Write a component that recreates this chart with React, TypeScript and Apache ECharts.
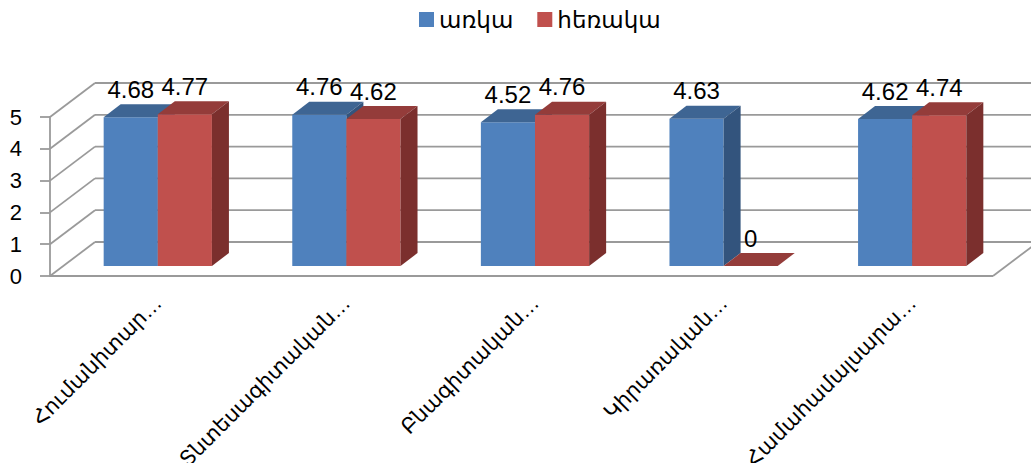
import React, { useEffect, useRef } from "react";
import * as echarts from "echarts";

const categories = ["Հումանիտար…", "Տնտեսագիտական…", "Բնագիտական…", "Կիրառական…", "Համահամալսարա…"];
const seriesNames = ["առկա", "հեռակա"];
const inPerson = [4.68, 4.76, 4.52, 4.63, 4.62];
const distance = [4.77, 4.62, 4.76, 0, 4.74];
const yTicks = [0, 1, 2, 3, 4, 5];

const FRONT = ["#4F81BD", "#C0504D"];
const TOP = ["#3E6593", "#943C3A"];
const SIDE = ["#33547D", "#7B2F2D"];
const LINE = "#9A9A9A";
const DX = 45;
const DY = -34;
const BDX = 17;
const BDY = -13;
const FONT = "'Liberation Sans', 'DejaVu Sans', sans-serif";

export default function App() {
  const ref = useRef<HTMLDivElement>(null);
  useEffect(() => {
    document.body.style.margin = "0";
    const chart = echarts.init(ref.current!, null, { renderer: "svg" });
    const n = categories.length;

    const frameRender = (params: any, api: any) => {
      const v = api.value(1);
      const bw = api.size([1, 0])[0];
      const pL = api.coord([0, v]);
      const pR = api.coord([n - 1, v]);
      const left = pL[0] - bw / 2;
      const right = pR[0] + bw / 2;
      const y = pL[1];
      const st = { stroke: LINE, lineWidth: 1.8 };
      const children: any[] = [
        { type: "line", shape: { x1: left, y1: y, x2: left + DX, y2: y + DY }, style: st },
        { type: "line", shape: { x1: left + DX, y1: y + DY, x2: right + DX, y2: y + DY }, style: st },
      ];
      if (v === 0) {
        children.push({ type: "line", shape: { x1: left, y1: y, x2: right, y2: y }, style: st });
        children.push({ type: "line", shape: { x1: right, y1: y, x2: right + DX, y2: y + DY }, style: st });
      }
      return { type: "group", children };
    };

    const barRender = (s: number) => (params: any, api: any) => {
      const idx = api.value(0);
      const val = api.value(1);
      const top = api.coord([idx, val]);
      const base = api.coord([idx, 0]);
      const bw = api.size([1, 0])[0];
      const w = bw * 0.287;
      const x0 = s === 0 ? top[0] - w : top[0];
      const ty = top[1];
      const by = base[1];
      return {
        type: "group",
        children: [
          { type: "rect", shape: { x: x0, y: ty, width: w, height: by - ty }, style: { fill: FRONT[s] } },
          {
            type: "polygon",
            shape: { points: [[x0, ty], [x0 + w, ty], [x0 + w + BDX, ty + BDY], [x0 + BDX, ty + BDY]] },
            style: { fill: TOP[s] },
          },
          {
            type: "polygon",
            shape: { points: [[x0 + w, ty], [x0 + w + BDX, ty + BDY], [x0 + w + BDX, by + BDY], [x0 + w, by]] },
            style: { fill: SIDE[s] },
          },
          {
            type: "text",
            style: {
              x: x0 + w / 2,
              y: ty - 28,
              text: String(val),
              fill: "#000",
              font: `24px ${FONT}`,
              align: "center",
              verticalAlign: "middle",
            },
          },
        ],
      };
    };

    chart.setOption({
      animation: false,
      legend: {
        data: seriesNames,
        top: 8,
        left: 419,
        padding: 0,
        icon: "rect",
        itemWidth: 15,
        itemHeight: 15,
        itemGap: 24,
        textStyle: { fontSize: 23, color: "#000", fontFamily: FONT },
      },
      grid: [
        { left: 50, right: 38, top: 117, height: 159, outerBoundsMode: "none", containLabel: false },
        { left: 63.5, right: 24.5, top: 107, height: 159, outerBoundsMode: "none", containLabel: false },
      ],
      xAxis: [
        {
          gridIndex: 0,
          type: "category",
          data: categories,
          axisLine: { show: false },
          axisTick: { show: false },
          axisLabel: { show: false },
        },
        {
          gridIndex: 1,
          type: "category",
          data: categories,
          axisLine: { show: false },
          axisTick: { show: false },
          axisLabel: { rotate: 45, fontSize: 21, color: "#000", margin: 33, fontFamily: FONT },
        },
      ],
      yAxis: [
        {
          gridIndex: 0,
          type: "value",
          min: 0,
          max: 5,
          interval: 1,
          axisLine: { show: true, lineStyle: { color: LINE, width: 1.8 } },
          axisTick: { show: true, length: 10, lineStyle: { color: LINE, width: 1.8 } },
          axisLabel: { fontSize: 22, color: "#000", margin: 28, fontFamily: FONT },
          splitLine: { show: false },
        },
        { gridIndex: 1, type: "value", min: 0, max: 5, interval: 1, show: false },
      ],
      series: [
        {
          type: "custom",
          xAxisIndex: 0,
          yAxisIndex: 0,
          silent: true,
          clip: false,
          data: yTicks.map((v) => [0, v]),
          renderItem: frameRender,
        },
        {
          type: "custom",
          name: seriesNames[0],
          xAxisIndex: 1,
          yAxisIndex: 1,
          clip: false,
          itemStyle: { color: FRONT[0] },
          data: inPerson.map((v, i) => [i, v]),
          renderItem: barRender(0),
        },
        {
          type: "custom",
          name: seriesNames[1],
          xAxisIndex: 1,
          yAxisIndex: 1,
          clip: false,
          itemStyle: { color: FRONT[1] },
          data: distance.map((v, i) => [i, v]),
          renderItem: barRender(1),
        },
      ],
    });
    return () => chart.dispose();
  }, []);
  return <div ref={ref} style={{ width: 1031, height: 463 }} />;
}
